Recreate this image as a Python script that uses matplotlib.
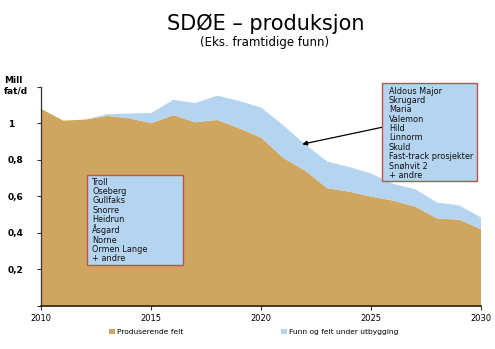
import matplotlib
matplotlib.use("Agg")
import matplotlib.pyplot as plt
from matplotlib.patches import Patch, Rectangle

# Annual SDØE production, million barrels per day
years = list(range(2010, 2031))
producing = [1.078, 1.014, 1.020, 1.040, 1.027, 1.000, 1.044, 1.005, 1.018, 0.972,
             0.921, 0.810, 0.740, 0.644, 0.625, 0.598, 0.576, 0.543, 0.478, 0.472, 0.419]
total = [1.078, 1.014, 1.020, 1.049, 1.053, 1.056, 1.128, 1.110, 1.151, 1.122,
         1.085, 0.988, 0.883, 0.790, 0.760, 0.724, 0.668, 0.638, 0.565, 0.550, 0.483]
under_dev = [t - p for t, p in zip(total, producing)]

y_ticks = [0, 0.2, 0.4, 0.6, 0.8, 1.0, 1.2]
y_tick_labels = ["", "0,2", "0,4", "0,6", "0,8", "1", ""]
x_ticks = [2010, 2015, 2020, 2025, 2030]

series_names = ["Produserende felt", "Funn og felt under utbygging"]
left_box_fields = ["Troll", "Oseberg", "Gullfaks", "Snorre", "Heidrun",
                   "Åsgard", "Norne", "Ormen Lange", "+ andre"]
right_box_fields = ["Aldous Major", "Skrugard", "Maria", "Valemon", "Hild",
                    "Linnorm", "Skuld", "Fast-track prosjekter", "Snøhvit 2", "+ andre"]

brown = "#cfa660"
blue = "#b4d4f0"
box_edge = "#c0504d"

fig = plt.figure(figsize=(4.95, 3.49), dpi=100)
ax = fig.add_axes([0.0834, 0.1238, 0.8889, 0.6278])

ax.stackplot(years, producing, under_dev, colors=[brown, blue], linewidth=0)

ax.set_xlim(2010, 2030)
ax.set_ylim(0, 1.2)
for s in ["top", "right"]:
    ax.spines[s].set_visible(False)
ax.spines["left"].set_color("#333333")
ax.spines["left"].set_linewidth(0.9)
ax.spines["bottom"].set_color("#3a2a10")
ax.spines["bottom"].set_linewidth(1.3)

ax.set_yticks(y_ticks)
ax.set_yticklabels(y_tick_labels, fontsize=6.5, fontweight="bold", ha="left")
ax.tick_params(axis="y", length=3, width=0.8, color="#333333", pad=21)
ax.set_xticks(x_ticks)
ax.set_xticklabels([str(x) for x in x_ticks], fontsize=6)
ax.tick_params(axis="x", length=3, width=0.8, color="#333333", pad=3)

fig.text(0.008, 0.727, "Mill\nfat/d", fontsize=6.5, fontweight="bold",
         ha="left", va="bottom", linespacing=1.25)

fig.text(0.537, 0.933, "SDØE – produksjon", fontsize=15, ha="center", va="center")
fig.text(0.535, 0.877, "(Eks. framtidige funn)", fontsize=8.5, ha="center", va="center")

# Field list boxes
ax.add_patch(Rectangle((2012.06, 0.222), 4.39, 0.496, facecolor=blue,
                       edgecolor=box_edge, linewidth=1.0, zorder=5))
ax.text(2012.32, 0.467, "\n".join(left_box_fields), fontsize=5.9, ha="left", va="center",
        linespacing=1.044, color="#111111", zorder=6)

ax.add_patch(Rectangle((2025.5, 0.681), 4.29, 0.538, facecolor=blue,
                       edgecolor=box_edge, linewidth=1.0, zorder=5, clip_on=False))
ax.text(2025.8, 0.945, "\n".join(right_box_fields), fontsize=5.9, ha="left", va="center",
        linespacing=1.044, color="#111111", zorder=6)

ax.annotate("", xy=(2021.86, 0.885), xytext=(2025.5, 0.978),
            arrowprops=dict(arrowstyle="-|>", color="black", lw=0.9,
                            mutation_scale=7, shrinkA=0, shrinkB=0), zorder=4)

handles = [Patch(facecolor=brown, edgecolor="none"), Patch(facecolor=blue, edgecolor="none")]
fig.legend(handles, series_names, loc="center", bbox_to_anchor=(0.512, 0.049), ncol=2,
           frameon=False, fontsize=5.4, handlelength=0.8, handleheight=0.8,
           handletextpad=0.3, columnspacing=13)

fig.savefig("out.png", dpi=100)
